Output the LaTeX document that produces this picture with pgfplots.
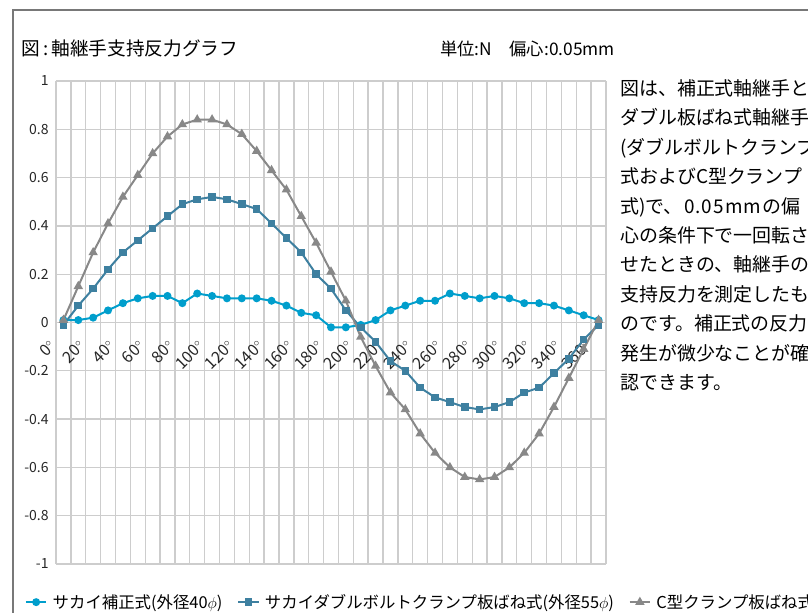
\documentclass[border=0pt]{standalone}
\usepackage{fontspec}
\setmainfont{Noto Sans CJK JP}
\usepackage{pgfplots}
\pgfplotsset{compat=1.18}
\definecolor{ccyan}{RGB}{0,158,204}
\definecolor{cteal}{RGB}{62,128,160}
\definecolor{cgray}{RGB}{136,136,136}
\definecolor{gridc}{RGB}{205,205,205}
\definecolor{framec}{RGB}{120,120,120}

\begin{document}
\begin{tikzpicture}
\useasboundingbox (0,0) rectangle (606pt,459.75pt);
\begin{scope}[shift={(0pt,459.75pt)}, x=0.75pt, y=-0.75pt]
\draw[framec, line width=1pt] (13,10) rectangle (840,650);
\node[anchor=west, inner sep=0, font=\fontsize{14}{16}\selectfont] at (21,48) {図\,:\,軸継手支持反力グラフ};
\node[anchor=west, inner sep=0, font=\fontsize{13}{14}\selectfont] at (440,49) {単位:N　偏心:0.05mm};
\node[anchor=north west, align=left, inner sep=0, font=\fontsize{14.2}{22.1}\selectfont] at (620,79) {%
図は、補正式軸継手と\\
ダブル板ばね式軸継手\\
(ダブルボルトクランプ\\
式およびC型クランプ\\
式)で、\kern1pt 0\kern0.8pt.\kern0.8pt0\kern0.8pt5\kern0.8pt m\kern0.8pt m\kern1pt の偏\\
心の条件下で一回転さ\\
せたときの、軸継手の\\
支持反力を測定したも\\
のです。補正式の反力\\
発生が微少なことが確\\
認できます。};
\end{scope}

\begin{axis}[
    at={(42pt,36.75pt)}, anchor=south west,
    scale only axis, width=412.5pt, height=362.25pt,
    xmin=-5, xmax=365, ymin=-1, ymax=1,
    axis x line*=middle, axis y line*=left,
    axis line style={draw=gridc, line width=1pt},
    hide obscured x ticks=false, hide obscured y ticks=false,
    xtick={0,20,40,60,80,100,120,140,160,180,200,220,240,260,280,300,320,340,360},
    xticklabels={0$^\circ$,20$^\circ$,40$^\circ$,60$^\circ$,80$^\circ$,100$^\circ$,120$^\circ$,140$^\circ$,160$^\circ$,180$^\circ$,200$^\circ$,220$^\circ$,240$^\circ$,260$^\circ$,280$^\circ$,300$^\circ$,320$^\circ$,340$^\circ$,360$^\circ$},
    minor xtick={-5,5,15,25,35,45,55,65,75,85,95,105,115,125,135,145,155,165,175,185,195,205,215,225,235,245,255,265,275,285,295,305,315,325,335,345,355,365},
    ytick={-1,-0.8,-0.6,-0.4,-0.2,0,0.2,0.4,0.6,0.8,1},
    yticklabels={-1,-0.8,-0.6,-0.4,-0.2,0,0.2,0.4,0.6,0.8,1},
    major tick length=0, minor tick length=0,
    xmajorgrids=false, xminorgrids=true, ymajorgrids=true,
    grid style={draw=gridc, line width=1pt},
    minor grid style={draw=gridc, line width=1pt},
    tick label style={text=black!85},
    yticklabel style={font=\fontsize{10.5}{12}\selectfont, xshift=-2pt},
    xticklabel style={font=\fontsize{12}{14}\selectfont, xshift=-5.5pt, yshift=-13pt, rotate=45, anchor=east},
    clip=false,
    legend columns=3,
    legend style={at={(-0.057,-0.079)}, anchor=west, draw=none, fill=none,
        font=\fontsize{12.3}{14}\selectfont, inner sep=0pt,
        /tikz/every odd column/.append style={column sep=2pt},
        /tikz/every even column/.append style={column sep=9pt}},
    legend image code/.code={\draw[mark repeat=2,mark phase=2] plot coordinates {(0cm,0cm) (0.27cm,0cm) (0.54cm,0cm)};},
]
\addplot[ccyan, line width=1.5pt, mark=*, mark size=2.2pt] coordinates {
(0,0.01)(10,0.01)(20,0.02)(30,0.05)(40,0.08)(50,0.10)(60,0.11)(70,0.11)(80,0.08)(90,0.12)
(100,0.11)(110,0.10)(120,0.10)(130,0.10)(140,0.09)(150,0.07)(160,0.04)(170,0.03)(180,-0.02)(190,-0.02)
(200,-0.01)(210,0.01)(220,0.05)(230,0.07)(240,0.09)(250,0.09)(260,0.12)(270,0.11)(280,0.10)(290,0.11)
(300,0.10)(310,0.08)(320,0.08)(330,0.07)(340,0.05)(350,0.03)(360,0.01)
};
\addplot[cteal, line width=1.5pt, mark=square*, mark size=2.1pt] coordinates {
(0,-0.01)(10,0.07)(20,0.14)(30,0.22)(40,0.29)(50,0.34)(60,0.39)(70,0.44)(80,0.49)(90,0.51)
(100,0.52)(110,0.51)(120,0.49)(130,0.47)(140,0.41)(150,0.35)(160,0.29)(170,0.20)(180,0.14)(190,0.05)
(200,-0.02)(210,-0.08)(220,-0.16)(230,-0.20)(240,-0.27)(250,-0.31)(260,-0.33)(270,-0.35)(280,-0.36)(290,-0.35)
(300,-0.33)(310,-0.29)(320,-0.27)(330,-0.21)(340,-0.15)(350,-0.07)(360,-0.01)
};
\addplot[cgray, line width=1.5pt, mark=triangle*, mark size=2.6pt] coordinates {
(0,0.01)(10,0.15)(20,0.29)(30,0.41)(40,0.52)(50,0.61)(60,0.70)(70,0.77)(80,0.82)(90,0.84)
(100,0.84)(110,0.82)(120,0.78)(130,0.71)(140,0.63)(150,0.55)(160,0.44)(170,0.33)(180,0.21)(190,0.09)
(200,-0.06)(210,-0.18)(220,-0.29)(230,-0.36)(240,-0.46)(250,-0.54)(260,-0.60)(270,-0.64)(280,-0.65)(290,-0.64)
(300,-0.60)(310,-0.54)(320,-0.46)(330,-0.35)(340,-0.23)(350,-0.11)(360,0.01)
};
\legend{サカイ補正式(外径40$\phi$),サカイダブルボルトクランプ板ばね式(外径55$\phi$),C型クランプ板ばね式(外径55$\phi$)}
\end{axis}
\end{tikzpicture}
\end{document}
